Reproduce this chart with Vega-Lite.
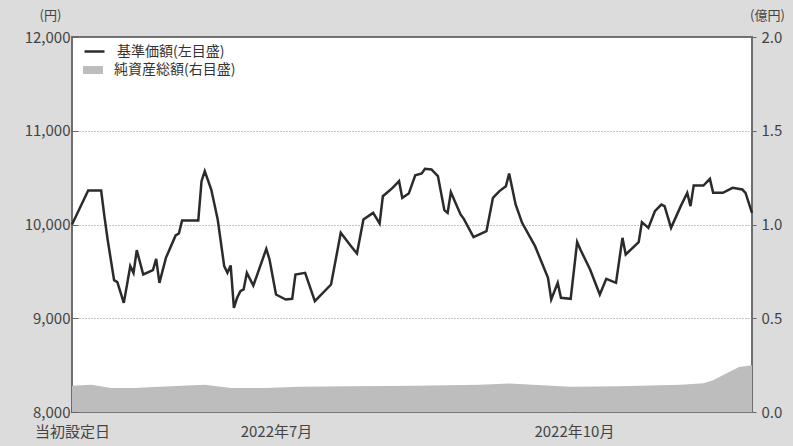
{
  "$schema": "https://vega.github.io/schema/vega-lite/v6.json",
  "width": 680,
  "height": 375,
  "autosize": {"type": "none"},
  "padding": {"left": 72, "top": 37, "right": 41, "bottom": 34},
  "background": "#dcdcdc",
  "config": {
    "font": "Noto Sans CJK JP",
    "view": {"fill": "white", "stroke": "#6e6e6e", "strokeWidth": 2},
    "axis": {
      "labelFont": "Noto Sans CJK JP",
      "labelFontSize": 15,
      "labelColor": "#444444",
      "titleFont": "Noto Sans CJK JP",
      "titleFontSize": 13,
      "titleFontWeight": "normal",
      "titleColor": "#444444",
      "domain": false
    },
    "legend": {
      "labelFont": "Noto Sans CJK JP",
      "labelFontSize": 14,
      "labelColor": "#333333",
      "padding": 0
    }
  },
  "datasets": {
    "nav": [
      {"date": "2022-04-29", "nav": 10000},
      {"date": "2022-05-04", "nav": 10363},
      {"date": "2022-05-08", "nav": 10363},
      {"date": "2022-05-09", "nav": 10089},
      {"date": "2022-05-10", "nav": 9840},
      {"date": "2022-05-12", "nav": 9406},
      {"date": "2022-05-13", "nav": 9385},
      {"date": "2022-05-15", "nav": 9164},
      {"date": "2022-05-16", "nav": 9360},
      {"date": "2022-05-17", "nav": 9556},
      {"date": "2022-05-18", "nav": 9484},
      {"date": "2022-05-19", "nav": 9726},
      {"date": "2022-05-21", "nav": 9467},
      {"date": "2022-05-24", "nav": 9513},
      {"date": "2022-05-25", "nav": 9634},
      {"date": "2022-05-26", "nav": 9378},
      {"date": "2022-05-28", "nav": 9644},
      {"date": "2022-05-31", "nav": 9883},
      {"date": "2022-06-01", "nav": 9904},
      {"date": "2022-06-02", "nav": 10043},
      {"date": "2022-06-07", "nav": 10043},
      {"date": "2022-06-08", "nav": 10462},
      {"date": "2022-06-09", "nav": 10569},
      {"date": "2022-06-11", "nav": 10373},
      {"date": "2022-06-13", "nav": 10053},
      {"date": "2022-06-15", "nav": 9556},
      {"date": "2022-06-16", "nav": 9484},
      {"date": "2022-06-17", "nav": 9563},
      {"date": "2022-06-18", "nav": 9111},
      {"date": "2022-06-19", "nav": 9218},
      {"date": "2022-06-20", "nav": 9289},
      {"date": "2022-06-21", "nav": 9307},
      {"date": "2022-06-22", "nav": 9484},
      {"date": "2022-06-24", "nav": 9349},
      {"date": "2022-06-28", "nav": 9740},
      {"date": "2022-06-29", "nav": 9627},
      {"date": "2022-07-01", "nav": 9253},
      {"date": "2022-07-04", "nav": 9200},
      {"date": "2022-07-06", "nav": 9207},
      {"date": "2022-07-07", "nav": 9467},
      {"date": "2022-07-10", "nav": 9484},
      {"date": "2022-07-13", "nav": 9182},
      {"date": "2022-07-18", "nav": 9360},
      {"date": "2022-07-21", "nav": 9911},
      {"date": "2022-07-24", "nav": 9776},
      {"date": "2022-07-26", "nav": 9691},
      {"date": "2022-07-28", "nav": 10053},
      {"date": "2022-07-31", "nav": 10124},
      {"date": "2022-08-02", "nav": 10011},
      {"date": "2022-08-03", "nav": 10302},
      {"date": "2022-08-06", "nav": 10391},
      {"date": "2022-08-08", "nav": 10462},
      {"date": "2022-08-09", "nav": 10284},
      {"date": "2022-08-11", "nav": 10330},
      {"date": "2022-08-13", "nav": 10525},
      {"date": "2022-08-15", "nav": 10544},
      {"date": "2022-08-16", "nav": 10594},
      {"date": "2022-08-18", "nav": 10587},
      {"date": "2022-08-20", "nav": 10516},
      {"date": "2022-08-22", "nav": 10153},
      {"date": "2022-08-23", "nav": 10124},
      {"date": "2022-08-24", "nav": 10345},
      {"date": "2022-08-27", "nav": 10107},
      {"date": "2022-08-28", "nav": 10060},
      {"date": "2022-08-31", "nav": 9865},
      {"date": "2022-09-04", "nav": 9929},
      {"date": "2022-09-06", "nav": 10284},
      {"date": "2022-09-08", "nav": 10356},
      {"date": "2022-09-10", "nav": 10409},
      {"date": "2022-09-11", "nav": 10544},
      {"date": "2022-09-13", "nav": 10213},
      {"date": "2022-09-15", "nav": 10018},
      {"date": "2022-09-19", "nav": 9769},
      {"date": "2022-09-23", "nav": 9431},
      {"date": "2022-09-24", "nav": 9200},
      {"date": "2022-09-26", "nav": 9378},
      {"date": "2022-09-27", "nav": 9218},
      {"date": "2022-09-30", "nav": 9207},
      {"date": "2022-10-02", "nav": 9812},
      {"date": "2022-10-03", "nav": 9733},
      {"date": "2022-10-06", "nav": 9520},
      {"date": "2022-10-09", "nav": 9253},
      {"date": "2022-10-11", "nav": 9420},
      {"date": "2022-10-14", "nav": 9378},
      {"date": "2022-10-16", "nav": 9858},
      {"date": "2022-10-17", "nav": 9680},
      {"date": "2022-10-21", "nav": 9812},
      {"date": "2022-10-22", "nav": 10025},
      {"date": "2022-10-24", "nav": 9964},
      {"date": "2022-10-26", "nav": 10142},
      {"date": "2022-10-28", "nav": 10213},
      {"date": "2022-10-29", "nav": 10196},
      {"date": "2022-10-31", "nav": 9964},
      {"date": "2022-11-03", "nav": 10196},
      {"date": "2022-11-05", "nav": 10338},
      {"date": "2022-11-06", "nav": 10196},
      {"date": "2022-11-07", "nav": 10416},
      {"date": "2022-11-10", "nav": 10416},
      {"date": "2022-11-12", "nav": 10487},
      {"date": "2022-11-13", "nav": 10338},
      {"date": "2022-11-16", "nav": 10338},
      {"date": "2022-11-19", "nav": 10391},
      {"date": "2022-11-22", "nav": 10373},
      {"date": "2022-11-23", "nav": 10338},
      {"date": "2022-11-25", "nav": 10124}
    ],
    "aum": [
      {"date": "2022-04-29", "aum": 0.14},
      {"date": "2022-05-05", "aum": 0.145},
      {"date": "2022-05-11", "aum": 0.128},
      {"date": "2022-05-18", "aum": 0.128},
      {"date": "2022-05-26", "aum": 0.135},
      {"date": "2022-06-09", "aum": 0.145},
      {"date": "2022-06-17", "aum": 0.128},
      {"date": "2022-06-28", "aum": 0.128},
      {"date": "2022-07-08", "aum": 0.135},
      {"date": "2022-07-24", "aum": 0.137},
      {"date": "2022-08-13", "aum": 0.14},
      {"date": "2022-09-02", "aum": 0.145},
      {"date": "2022-09-11", "aum": 0.152},
      {"date": "2022-09-30", "aum": 0.135},
      {"date": "2022-10-15", "aum": 0.138},
      {"date": "2022-11-03", "aum": 0.145},
      {"date": "2022-11-10", "aum": 0.153},
      {"date": "2022-11-13", "aum": 0.17},
      {"date": "2022-11-17", "aum": 0.205},
      {"date": "2022-11-21", "aum": 0.24},
      {"date": "2022-11-25", "aum": 0.25}
    ]
  },
  "layer": [
    {
      "data": {"name": "aum"},
      "mark": {"type": "area", "color": "#bdbdbd"},
      "encoding": {
        "x": {
          "field": "date",
          "type": "temporal",
          "scale": {
            "type": "utc",
            "domain": [
              {"year": 2022, "month": 4, "date": 29, "utc": true},
              {"year": 2022, "month": 11, "date": 25, "utc": true}
            ]
          },
          "axis": {
            "title": null,
            "values": [
              {"year": 2022, "month": 4, "date": 29, "utc": true},
              {"year": 2022, "month": 7, "date": 1, "utc": true},
              {"year": 2022, "month": 10, "date": 1, "utc": true}
            ],
            "labelExpr": "utcmonth(datum.value) == 3 ? '当初設定日' : utcFormat(datum.value, '%Y年%-m月')",
            "labelFlush": false,
            "labelOverlap": false,
            "labelBound": false,
            "tickSize": -5,
            "tickColor": "#555555",
            "tickWidth": 1.5,
            "labelPadding": 17,
            "grid": false
          }
        },
        "y": {
          "field": "aum",
          "type": "quantitative",
          "scale": {"domain": [0, 2], "nice": false},
          "axis": {
            "orient": "right",
            "title": "(億円)",
            "titleAngle": 0,
            "titleX": 15,
            "titleY": -22,
            "titleAlign": "center",
            "titleBaseline": "middle",
            "values": [0, 0.5, 1, 1.5, 2],
            "format": ".1f",
            "ticks": true,
            "tickSize": 4,
            "tickColor": "#666666",
            "labelPadding": 5,
            "grid": true,
            "gridColor": "#888888",
            "gridDash": [1, 2],
            "gridWidth": 1
          }
        },
        "fill": {
          "datum": "純資産総額(右目盛)",
          "scale": {"range": ["#bdbdbd"]},
          "legend": {
            "title": null,
            "orient": "none",
            "legendX": 11,
            "legendY": 23,
            "symbolType": "M-1,-0.4H1V0.4H-1Z",
            "symbolSize": 400,
            "symbolStrokeWidth": 0,
            "labelOffset": 11
          }
        }
      }
    },
    {
      "data": {"name": "nav"},
      "mark": {"type": "line", "color": "#2b2b2b", "strokeWidth": 2.5},
      "encoding": {
        "x": {
          "field": "date",
          "type": "temporal",
          "scale": {
            "type": "utc",
            "domain": [
              {"year": 2022, "month": 4, "date": 29, "utc": true},
              {"year": 2022, "month": 11, "date": 25, "utc": true}
            ]
          },
          "axis": {
            "title": null,
            "values": [
              {"year": 2022, "month": 4, "date": 29, "utc": true},
              {"year": 2022, "month": 7, "date": 1, "utc": true},
              {"year": 2022, "month": 10, "date": 1, "utc": true}
            ],
            "labelExpr": "utcmonth(datum.value) == 3 ? '当初設定日' : utcFormat(datum.value, '%Y年%-m月')",
            "labelFlush": false,
            "labelOverlap": false,
            "labelBound": false,
            "tickSize": -5,
            "tickColor": "#555555",
            "tickWidth": 1.5,
            "labelPadding": 17,
            "grid": false
          }
        },
        "y": {
          "field": "nav",
          "type": "quantitative",
          "scale": {"domain": [8000, 12000], "nice": false},
          "axis": {
            "orient": "left",
            "title": "(円)",
            "titleAngle": 0,
            "titleX": -22,
            "titleY": -22,
            "titleAlign": "center",
            "titleBaseline": "middle",
            "values": [8000, 9000, 10000, 11000, 12000],
            "format": ",.0f",
            "tickSize": -6,
            "tickColor": "#666666",
            "labelPadding": 8,
            "grid": false
          }
        },
        "stroke": {
          "datum": "基準価額(左目盛)",
          "scale": {"range": ["#2b2b2b"]},
          "legend": {
            "title": null,
            "orient": "none",
            "legendX": 11,
            "legendY": 3,
            "symbolType": "stroke",
            "symbolSize": 400,
            "symbolStrokeWidth": 2.5,
            "labelOffset": 11
          }
        }
      }
    }
  ],
  "resolve": {"scale": {"y": "independent", "fill": "independent", "stroke": "independent"}}
}
